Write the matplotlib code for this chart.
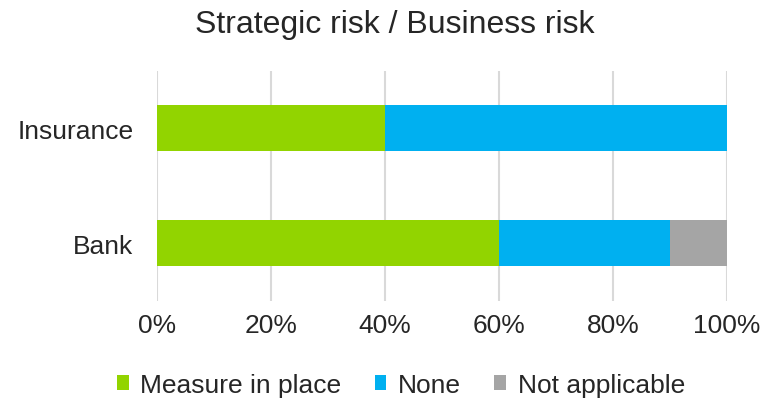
import numpy as np
import matplotlib.pyplot as plt
from matplotlib.ticker import PercentFormatter

plt.rcParams['font.family'] = ['Liberation Sans', 'DejaVu Sans']

# Share of entities per response, by sector
categories = ["Bank", "Insurance"]
measure_in_place = [60, 40]
none = [30, 60]
not_applicable = [10, 0]

series = [
    ("Measure in place", measure_in_place, "#92D400"),
    ("None", none, "#00B0F0"),
    ("Not applicable", not_applicable, "#A5A5A5"),
]

fig = plt.figure(figsize=(7.7, 4.02), dpi=100)
ax = fig.add_axes([0.2039, 0.2488, 0.7403, 0.5721])

y = np.arange(len(categories))
left = np.zeros(len(categories))
for name, vals, col in series:
    vals = np.array(vals, dtype=float)
    ax.barh(y, vals, left=left, height=0.4, color=col, label=name, zorder=2)
    left += vals

ax.set_xlim(0, 100)
ax.set_ylim(-0.5, 1.5)
ax.set_xticks(np.arange(0, 101, 20))
ax.xaxis.set_major_formatter(PercentFormatter(decimals=0))
ax.set_yticks(y)
ax.set_yticklabels(categories)
ax.grid(axis="x", color="#d9d9d9", linewidth=1.5, zorder=0)
for s in ax.spines.values():
    s.set_visible(False)
ax.tick_params(length=0, labelsize=19, colors="#262626")
ax.tick_params(axis="x", pad=9)
ax.tick_params(axis="y", pad=17)

fig.suptitle("Strategic risk / Business risk", fontsize=23, color="#262626",
             x=0.513, y=0.975)

ax.legend(loc="center", bbox_to_anchor=(0.428, -0.365), ncol=3, frameon=False,
          fontsize=19, handlelength=0.45, handleheight=0.45, handletextpad=0.45,
          columnspacing=1.25, labelcolor="#262626")

fig.savefig("out.png", dpi=100)
